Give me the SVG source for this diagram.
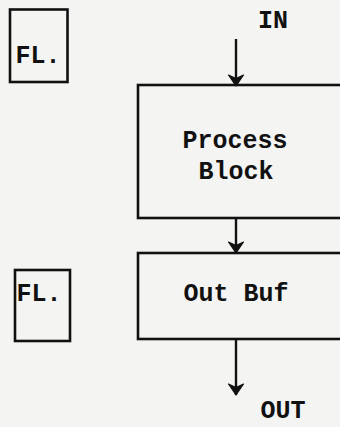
<svg xmlns="http://www.w3.org/2000/svg" width="340" height="427" viewBox="0 0 340 427">
<defs>
<style>
.box{fill:none;stroke:#111;stroke-width:2.6}
.ln{fill:none;stroke:#111;stroke-width:2.4}
.t{font-family:"Liberation Mono","DejaVu Sans Mono",monospace;font-weight:bold;font-size:25px;fill:#111;text-anchor:middle}
</style>
<marker id="ah" viewBox="0 0 13 18" refX="12" refY="9" markerWidth="13" markerHeight="18" markerUnits="userSpaceOnUse" orient="auto">
<path d="M1,1.5 L12,9 L1,16.5 L4.5,9 Z" fill="#111" stroke="#111" stroke-width="1.2" stroke-linejoin="round"/>
</marker>
</defs>
<rect width="340" height="427" fill="#f4f4f2"/>
<g id="fl1"><rect class="box" x="10" y="9.5" width="57.5" height="72.5"/><text class="t" x="38" y="63">FL.</text></g>
<g id="in"><text class="t" x="273" y="28">IN</text></g>
<g id="process"><rect class="box" x="138" y="85" width="210" height="133"/><text class="t" x="235" y="148">Process</text><text class="t" x="236" y="179">Block</text></g>
<g id="fl2"><rect class="box" x="15" y="270" width="55" height="71"/><text class="t" x="39" y="301">FL.</text></g>
<g id="outbuf"><rect class="box" x="138" y="253" width="210" height="86"/><text class="t" x="236" y="301">Out Buf</text></g>
<g id="out"><text class="t" x="283" y="418">OUT</text></g>
<g id="connectors">
<line class="ln" x1="236" y1="39" x2="236" y2="86" marker-end="url(#ah)"/>
<line class="ln" x1="236" y1="218" x2="236" y2="253" marker-end="url(#ah)"/>
<line class="ln" x1="236" y1="339" x2="236" y2="395" marker-end="url(#ah)"/>
</g>
</svg>
